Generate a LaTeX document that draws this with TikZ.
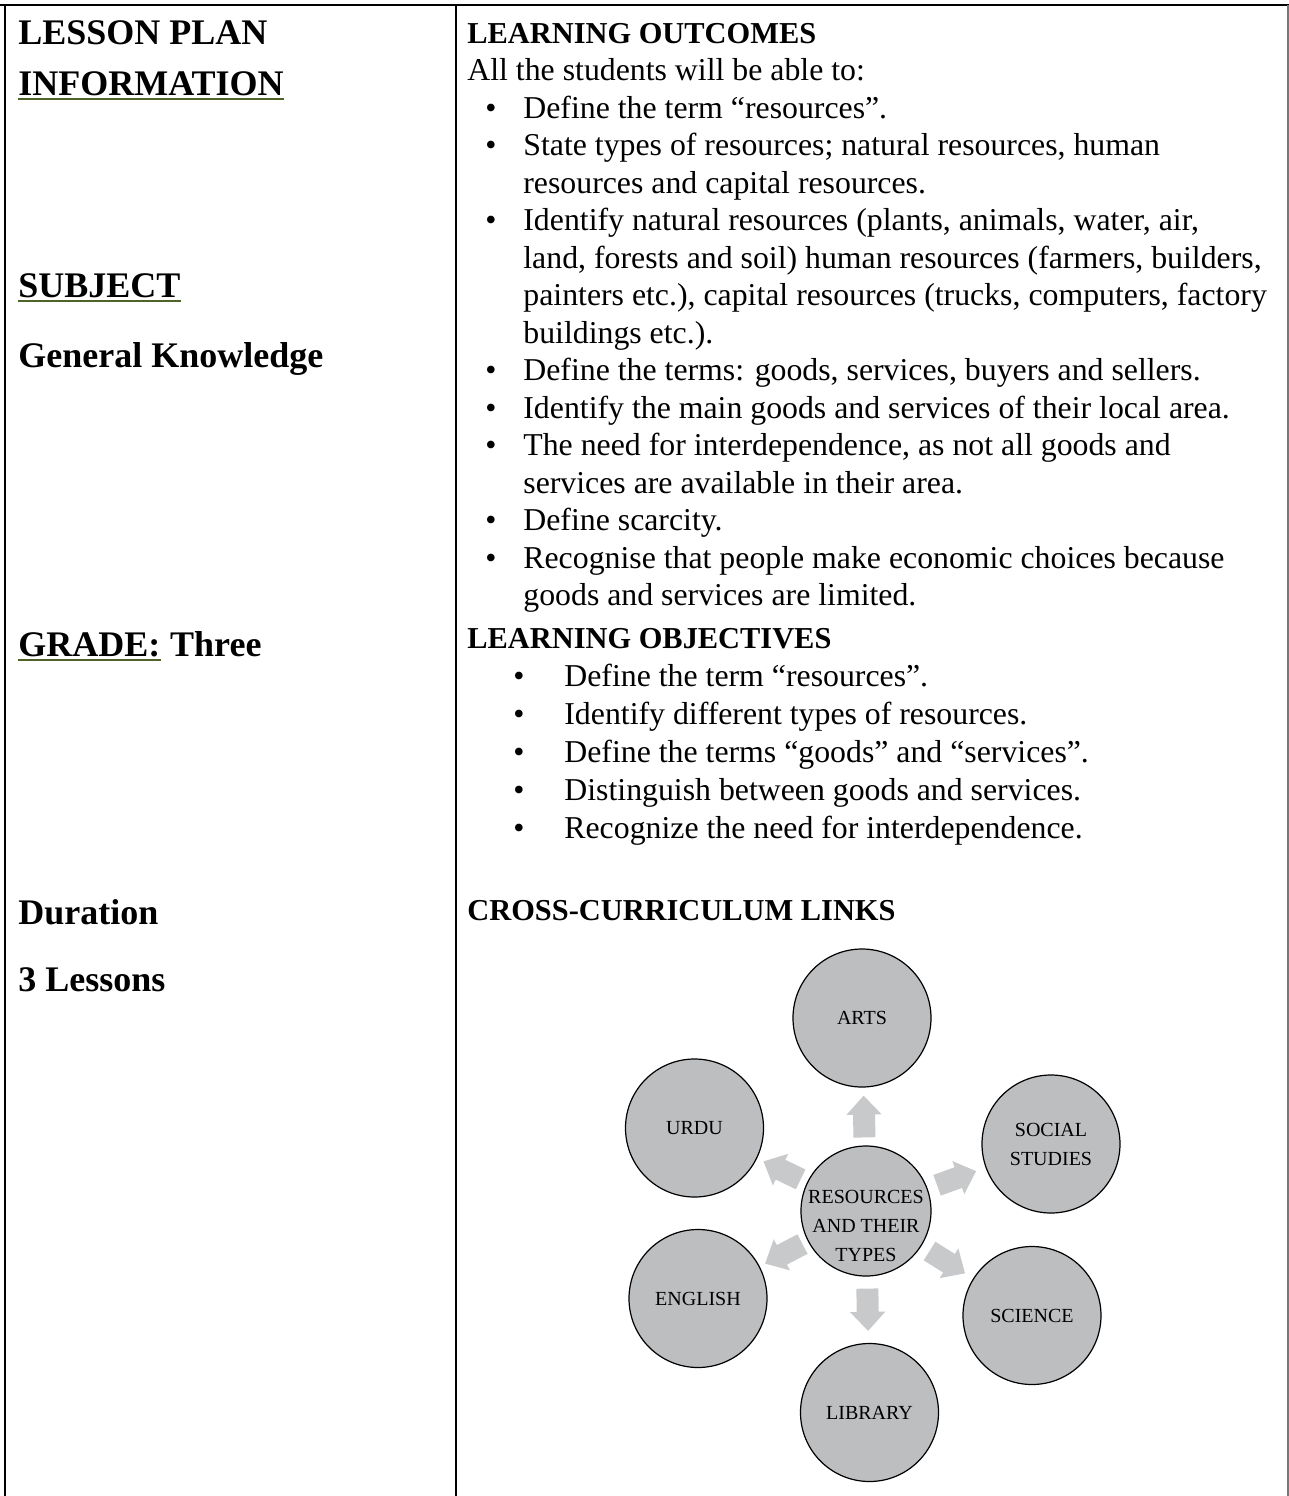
\documentclass[tikz,border=0pt]{standalone}
\usepackage{fontspec}
\setmainfont{Liberation Serif}
\usetikzlibrary{arrows.meta}

\definecolor{ulgreen}{RGB}{79,98,40}
\definecolor{circfill}{RGB}{189,190,192}
\definecolor{arrfill}{RGB}{200,201,203}
\definecolor{rulegray}{RGB}{120,120,120}

\tikzset{
  lefthead/.style={anchor=base west, inner sep=0pt, font=\fontsize{18}{22}\selectfont\bfseries},
  righthead/.style={anchor=base west, inner sep=0pt, font=\fontsize{15.2}{19}\selectfont\bfseries},
  body/.style={anchor=base west, inner sep=0pt, font=\fontsize{15.9}{19}\selectfont},
  bul/.style={anchor=base, inner sep=0pt, font=\fontsize{15.9}{19}\selectfont},
  uline/.style={draw=ulgreen, line width=1pt},
  topic/.style={circle, draw=black, line width=0.6pt, fill=circfill, minimum size=69pt,
    inner sep=0pt, align=center, font=\fontsize{10}{14.5}\selectfont},
  flow/.style={draw=arrfill, line width=11pt, -{Triangle[width=17pt,length=9.5pt]}},
}

\begin{document}
\begin{tikzpicture}[x=0.5pt, y=-0.5pt]
\useasboundingbox (0,0) rectangle (1289,1496);

% table rules
\draw[line width=1.25pt] (0,5) -- (1289,5);
\draw[line width=1pt] (5,5) -- (5,1496);
\draw[line width=1pt] (456,5) -- (456,1496);
\draw[rulegray, line width=0.6pt] (1288,5) -- (1288,1496);

% left column
\node[lefthead] (lesson) at (18,44) {LESSON PLAN};
\node[lefthead] (info) at (18,95) {INFORMATION};
\node[lefthead] (subj) at (18,297) {SUBJECT};
\node[lefthead] (gk) at (18,367) {General Knowledge};
\node[lefthead] (grade) at (18,656) {GRADE:};
\node[lefthead] (three) at ([xshift=4.5pt]grade.base east) {Three};
\node[lefthead] (dur) at (18,924) {Duration};
\node[lefthead] (lessons) at (18,991) {3 Lessons};
\foreach \n in {info,subj,grade}
  \draw[uline] ([yshift=-2pt]\n.base west) -- ([yshift=-2pt]\n.base east);

% learning outcomes
\node[righthead] (outhead) at (467,43) {LEARNING OUTCOMES};
\node[body] (able) at (467,80.5) {All the students will be able to:};
\foreach \b/\txt [count=\i] in {
    1/{Define the term “resources”.},
    1/{State types of resources; natural resources, human},
    0/{resources and capital resources.},
    1/{Identify natural resources (plants, animals, water, air,},
    0/{land, forests and soil) human resources (farmers, builders,},
    0/{painters etc.), capital resources (trucks, computers, factory},
    0/{buildings etc.).},
    1/{Define the terms: goods, services, buyers and sellers.},
    1/{Identify the main goods and services of their local area.},
    1/{The need for interdependence, as not all goods and},
    0/{services are available in their area.},
    1/{Define scarcity.},
    1/{Recognise that people make economic choices because},
    0/{goods and services are limited.}} {
  \node[body] (out\i) at (523,{80.5+37.5*\i}) {\txt};
  \ifnum\b=1 \node[bul] (outdot\i) at (491,{80.5+37.5*\i}) {\textbullet}; \fi
}

% learning objectives
\node[righthead] (objhead) at (467,648) {LEARNING OBJECTIVES};
\foreach \txt [count=\i] in {
    {Define the term “resources”.},
    {Identify different types of resources.},
    {Define the terms “goods” and “services”.},
    {Distinguish between goods and services.},
    {Recognize the need for interdependence.}} {
  \node[body] (obj\i) at (564,{648+38*\i}) {\txt};
  \node[bul] (objdot\i) at (519,{648+38*\i}) {\textbullet};
}

% cross-curriculum links
\node[righthead] (crosshead) at (467,920) {CROSS-CURRICULUM LINKS};
\node[topic, minimum size=65pt,
  label={[align=center, font=\fontsize{10}{14.5}\selectfont, yshift=-7.5pt]center:RESOURCES\\AND THEIR\\TYPES}]
  (res) at (866,1211) {};
\node[topic] (arts) at (862,1018) {ARTS};
\node[topic] (urdu) at (694.5,1128) {URDU};
\node[topic] (social) at (1051,1144) {SOCIAL\\STUDIES};
\node[topic] (english) at (698,1298.5) {ENGLISH};
\node[topic] (science) at (1032,1315.5) {SCIENCE};
\node[topic] (library) at (869.5,1412.5) {LIBRARY};
\foreach \t/\s in {arts/4pt, urdu/3.5pt, social/5pt, english/3pt, science/4.75pt, library/6pt}
  \draw[flow, shorten <=\s, shorten >=\s] (res) -- (\t);
\end{tikzpicture}
\end{document}
